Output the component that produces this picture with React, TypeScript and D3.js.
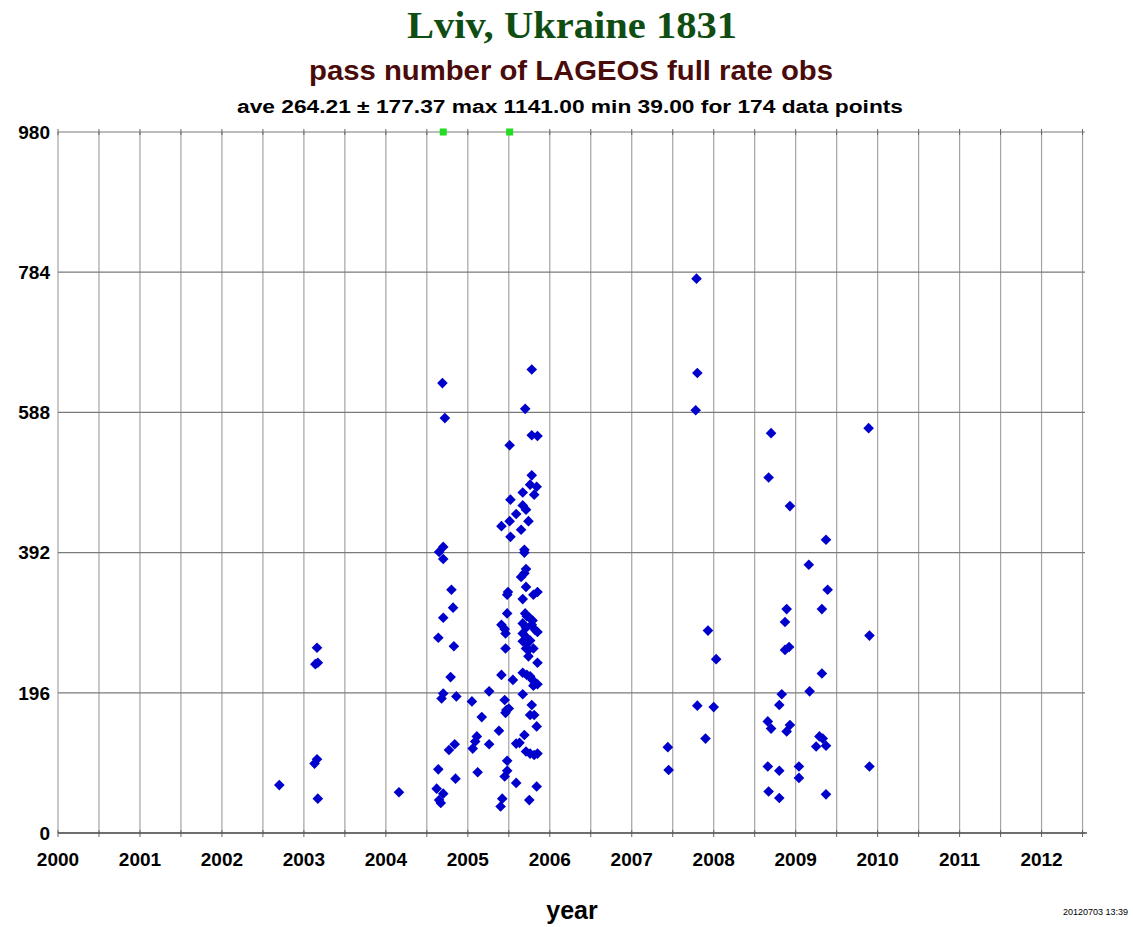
import React from "react";
import * as d3 from "d3";

// [decimal year, pass number], grouped by campaign
const obs2003: [number, number][] = [
  [2002.7, 67], [2003.16, 259], [2003.14, 236], [2003.17, 238],
  [2003.16, 103], [2003.13, 97], [2003.17, 48], [2004.16, 57],
];

const obs2004: [number, number][] = [
  [2004.69, 629], [2004.72, 580], [2004.7, 400], [2004.65, 393], [2004.7, 383],
  [2004.8, 340], [2004.82, 315], [2004.7, 301], [2004.64, 273], [2004.83, 261],
  [2004.79, 218], [2004.7, 195], [2004.68, 188], [2004.86, 191], [2004.84, 124],
  [2004.77, 116], [2004.64, 89], [2004.85, 76], [2004.62, 62], [2004.7, 55],
  [2004.65, 46], [2004.67, 42],
];

const obs2005a: [number, number][] = [
  [2005.05, 184], [2005.17, 162], [2005.11, 135], [2005.09, 128], [2005.06, 118],
  [2005.12, 85], [2005.26, 198], [2005.26, 124], [2005.38, 143], [2005.41, 221],
  [2005.41, 429], [2005.41, 291], [2005.45, 285], [2005.46, 279], [2005.45, 186],
  [2005.47, 172], [2005.5, 174], [2005.46, 168], [2005.42, 48], [2005.4, 37],
  [2005.48, 101], [2005.48, 87], [2005.45, 79], [2005.46, 258], [2005.48, 307],
  [2005.49, 337], [2005.48, 333], [2005.51, 542], [2005.51, 436], [2005.52, 466],
  [2005.52, 414], [2005.55, 214], [2005.59, 446], [2005.59, 70], [2005.59, 125],
  [2005.63, 126],
];

const obs2005b: [number, number][] = [
  [2005.78, 648], [2005.7, 593], [2005.78, 556], [2005.85, 555], [2005.78, 500],
  [2005.76, 487], [2005.84, 484], [2005.67, 476], [2005.81, 473], [2005.67, 458],
  [2005.71, 452], [2005.74, 436], [2005.65, 424], [2005.69, 396], [2005.69, 392],
  [2005.71, 369], [2005.65, 358], [2005.69, 363], [2005.71, 344], [2005.8, 333],
  [2005.85, 337], [2005.67, 327], [2005.7, 307], [2005.72, 303], [2005.76, 300],
  [2005.79, 297], [2005.67, 293], [2005.71, 287], [2005.78, 291], [2005.82, 284],
  [2005.85, 281], [2005.67, 279], [2005.72, 273], [2005.67, 268], [2005.72, 265],
  [2005.76, 269], [2005.8, 258], [2005.71, 258], [2005.74, 256], [2005.74, 247],
  [2005.85, 238], [2005.67, 224], [2005.72, 221], [2005.76, 219], [2005.79, 214],
  [2005.82, 209], [2005.85, 208], [2005.8, 206], [2005.67, 194], [2005.78, 179],
  [2005.76, 165], [2005.81, 165], [2005.84, 149], [2005.69, 137], [2005.71, 114],
  [2005.76, 111], [2005.81, 109], [2005.85, 111], [2005.84, 65], [2005.75, 46],
];

const obs2008: [number, number][] = [
  [2007.44, 120], [2007.45, 88], [2007.79, 775], [2007.8, 643], [2007.78, 591],
  [2007.93, 283], [2008.03, 243], [2007.8, 178], [2008.0, 176], [2007.9, 132],
];

const obs2009: [number, number][] = [
  [2008.7, 559], [2009.89, 566], [2008.67, 497], [2008.93, 457], [2009.37, 410],
  [2009.16, 375], [2009.39, 340], [2008.89, 313], [2009.32, 313], [2008.87, 295],
  [2009.9, 276], [2008.92, 260], [2008.87, 256], [2009.32, 223], [2008.83, 194],
  [2009.17, 198], [2008.8, 179], [2008.66, 156], [2008.7, 146], [2008.93, 151],
  [2008.89, 142], [2009.29, 135], [2009.33, 132], [2009.25, 121], [2009.37, 122],
  [2008.66, 93], [2008.8, 87], [2009.04, 93], [2009.04, 77], [2009.9, 93],
  [2008.67, 58], [2008.8, 49], [2009.37, 54],
];

// points above the plotted range, drawn pinned to the top edge
const clippedObs: [number, number][] = [
  [2004.7, 1141], [2005.51, 1050],
];

const yTicks = [0, 196, 392, 588, 784, 980];
const xYears = d3.range(2000, 2013);

const W = 1133;
const H = 927;
const margin = { top: 132, right: 48, bottom: 94, left: 58 };

const sans = "'Liberation Sans Narrow', 'Liberation Sans', Arial, sans-serif";

export default function App() {
  const x = d3
    .scaleLinear()
    .domain([2000, 2012.53])
    .range([margin.left, W - margin.right]);
  const y = d3
    .scaleLinear()
    .domain([0, 980])
    .range([H - margin.bottom, margin.top]);

  const allObs = [...obs2003, ...obs2004, ...obs2005a, ...obs2005b, ...obs2008, ...obs2009];
  const halfYears = d3.range(2000, 2012.51, 0.5);
  const diamond = d3.symbol().type(d3.symbolDiamond2).size(72)();

  const [x0, x1] = x.range();
  const [yb, yt] = y.range();

  return (
    <svg width={W} height={H} style={{ position: "absolute", left: 0, top: 0, background: "#fff" }}>
      <text x={572} y={38} textAnchor="middle" fontFamily="'Liberation Serif', serif" fontSize={37}
        fontWeight="bold" fill="#0f4d12" textLength={330} lengthAdjust="spacingAndGlyphs">
        Lviv, Ukraine 1831
      </text>
      <text x={571} y={80} textAnchor="middle" fontFamily={sans} fontWeight="bold" fontSize={27}
        fill="#4a0b0b" textLength={524} lengthAdjust="spacingAndGlyphs">
        pass number of LAGEOS full rate obs
      </text>
      <text x={570} y={113} textAnchor="middle" fontFamily={sans} fontWeight="bold" fontSize={18}
        fill="#000" textLength={666} lengthAdjust="spacingAndGlyphs">
        ave 264.21 ± 177.37 max 1141.00 min 39.00 for 174 data points
      </text>

      {/* grid */}
      <g stroke="#a4a4a4" strokeWidth={1.2}>
        {halfYears.map((t) => (
          <line key={"v" + t} x1={x(t)} x2={x(t)} y1={yt} y2={yb} />
        ))}
        {yTicks.map((v) => (
          <line key={"h" + v} x1={x0} x2={x1} y1={y(v)} y2={y(v)} stroke="#7a7a7a" />
        ))}
      </g>
      {/* tick marks on top and bottom edges */}
      <g stroke="#666" strokeWidth={1}>
        {halfYears.map((t) => (
          <g key={"t" + t}>
            <line x1={x(t)} x2={x(t)} y1={yb - 3} y2={yb + 4} />
            <line x1={x(t)} x2={x(t)} y1={yt - 3} y2={yt + 3} />
          </g>
        ))}
        <line x1={x0} x2={x1 + 2} y1={yb} y2={yb} stroke="#555" strokeWidth={1.4} />
      </g>

      {/* axis labels */}
      <g fontFamily={sans} fontWeight="bold" fontSize={19} fill="#000">
        {yTicks.map((v) => (
          <text key={"yl" + v} x={x0 - 8} y={y(v)} dy="0.36em" textAnchor="end">
            {v}
          </text>
        ))}
        {xYears.map((t) => (
          <text key={"xl" + t} x={x(t)} y={yb + 33} textAnchor="middle">
            {t}
          </text>
        ))}
        <text x={572} y={919} textAnchor="middle" fontSize={25}>
          year
        </text>
      </g>
      <text x={1128} y={915} textAnchor="end" fontFamily={sans} fontSize={9} fill="#000">
        20120703 13:39
      </text>

      {/* observations */}
      <g fill="#0000cc">
        {allObs.map(([t, v], i) => (
          <path key={i} d={diamond ?? ""} transform={`translate(${x(t)},${y(v)})`} />
        ))}
      </g>
      <g fill="#22dd22">
        {clippedObs.map(([t, v], i) => (
          <rect key={i} x={x(t) - 3.5} y={y(Math.min(v, 980)) - 3.5} width={7} height={7} />
        ))}
      </g>
    </svg>
  );
}
